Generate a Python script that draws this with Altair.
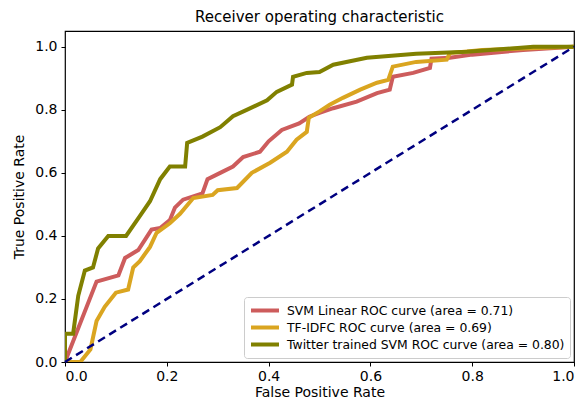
import altair as alt
import pandas as pd

series_names = [
    "SVM Linear ROC curve (area = 0.71)",
    "TF-IDFC ROC curve (area = 0.69)",
    "Twitter trained SVM ROC curve (area = 0.80)",
]
series_colors = ["#CD5C5C", "#DAA520", "#808000"]

red_x = [0, 0.062, 0.105, 0.118, 0.144, 0.17, 0.187, 0.206, 0.216, 0.232, 0.27, 0.28, 0.305, 0.33, 0.35,
         0.383, 0.40, 0.426, 0.46, 0.48, 0.50, 0.527, 0.573, 0.613, 0.638, 0.644, 0.684, 0.717, 0.72,
         0.756, 0.8, 0.9, 1.0]
red_y = [0, 0.255, 0.275, 0.33, 0.355, 0.42, 0.425, 0.45, 0.49, 0.515, 0.535, 0.58, 0.60, 0.62, 0.65,
         0.667, 0.70, 0.736, 0.757, 0.778, 0.79, 0.805, 0.826, 0.853, 0.864, 0.905, 0.917, 0.933, 0.962,
         0.965, 0.975, 0.99, 1.0]

gold_x = [0, 0.03, 0.05, 0.062, 0.078, 0.10, 0.124, 0.134, 0.147, 0.167, 0.18, 0.206, 0.226, 0.252,
          0.29, 0.30, 0.338, 0.367, 0.403, 0.436, 0.455, 0.475, 0.479, 0.50, 0.52, 0.546, 0.58, 0.613,
          0.635, 0.644, 0.69, 0.75, 0.756, 0.82, 1.0]
gold_y = [0, 0, 0.04, 0.13, 0.175, 0.22, 0.23, 0.30, 0.32, 0.365, 0.41, 0.44, 0.47, 0.52,
          0.53, 0.545, 0.552, 0.60, 0.632, 0.667, 0.705, 0.73, 0.775, 0.795, 0.816, 0.838, 0.864, 0.886,
          0.895, 0.937, 0.952, 0.959, 0.98, 0.99, 1.0]

olive_x = [0, 0, 0.016, 0.026, 0.039, 0.055, 0.065, 0.085, 0.12, 0.15, 0.167, 0.187, 0.206, 0.236,
           0.24, 0.27, 0.305, 0.33, 0.357, 0.397, 0.416, 0.446, 0.448, 0.475, 0.50, 0.527, 0.593, 0.69,
           0.79, 0.92, 1.0]
olive_y = [0, 0.09, 0.09, 0.21, 0.29, 0.30, 0.36, 0.40, 0.40, 0.47, 0.51, 0.58, 0.62, 0.62,
           0.695, 0.715, 0.745, 0.78, 0.80, 0.83, 0.857, 0.88, 0.905, 0.917, 0.92, 0.943, 0.965, 0.978,
           0.984, 1.0, 1.0]

diag_x = [0, 1]
diag_y = [0, 1]

x_ticks = [0, 0.2, 0.4, 0.6, 0.8, 1.0]
y_ticks = [0, 0.2, 0.4, 0.6, 0.8, 1.0]

rows = []
for name, xs, ys in zip(series_names, [red_x, gold_x, olive_x], [red_y, gold_y, olive_y]):
    for i, (a, b) in enumerate(zip(xs, ys)):
        rows.append({"series": name, "fpr": a, "tpr": b, "order": i})
df = pd.DataFrame(rows)
diag = pd.DataFrame({"fpr": diag_x, "tpr": diag_y})

FONT = "DejaVu Sans"

xscale = alt.Scale(domain=[0, 1], nice=False, zero=False)
yscale = alt.Scale(domain=[0, 1.05], nice=False, zero=False)

xaxis = alt.Axis(title="False Positive Rate", values=x_ticks, format=".1f", grid=False,
                 domain=False, tickColor="black", tickSize=4, labelColor="black",
                 labelFontSize=14, labelFont=FONT, titleFont=FONT, titleFontSize=14,
                 titleFontWeight="normal", titleColor="black", labelPadding=3, titlePadding=2)
yaxis = alt.Axis(title="True Positive Rate", values=y_ticks, format=".1f", grid=False,
                 domain=False, tickColor="black", tickSize=4, labelColor="black",
                 labelFontSize=14, labelFont=FONT, titleFont=FONT, titleFontSize=14,
                 titleFontWeight="normal", titleColor="black", labelPadding=4, titlePadding=8)

lines = alt.Chart(df).mark_line(strokeWidth=4, clip=True).encode(
    x=alt.X("fpr:Q", scale=xscale, axis=xaxis),
    y=alt.Y("tpr:Q", scale=yscale, axis=yaxis),
    color=alt.Color("series:N", sort=series_names,
                    scale=alt.Scale(domain=series_names, range=series_colors),
                    legend=alt.Legend(title=None, orient="bottom-right", offset=4,
                                      symbolType="stroke", symbolStrokeWidth=4, symbolSize=784,
                                      labelFont=FONT, labelFontSize=12.4, labelColor="black",
                                      strokeColor="#cccccc", fillColor="white", padding=5,
                                      cornerRadius=3, rowPadding=0, clipHeight=17,
                                      labelOffset=6, labelLimit=400)),
    order="order:Q",
)

diagonal = alt.Chart(diag).mark_line(color="navy", strokeWidth=2.5, strokeDash=[8, 5]).encode(
    x=alt.X("fpr:Q", scale=xscale),
    y=alt.Y("tpr:Q", scale=yscale),
)

chart = alt.layer(lines, diagonal).properties(
    width=509, height=331,
    autosize=alt.AutoSizeParams(type="none"),
    padding={"left": 57, "top": 23, "right": 5, "bottom": 38},
    title=alt.TitleParams("Receiver operating characteristic", font=FONT, fontSize=15,
                          fontWeight="normal", color="black", offset=6),
).configure_view(stroke="black", strokeWidth=1.2)

chart.save("out.html", embed_options={"renderer": "svg", "actions": False})
